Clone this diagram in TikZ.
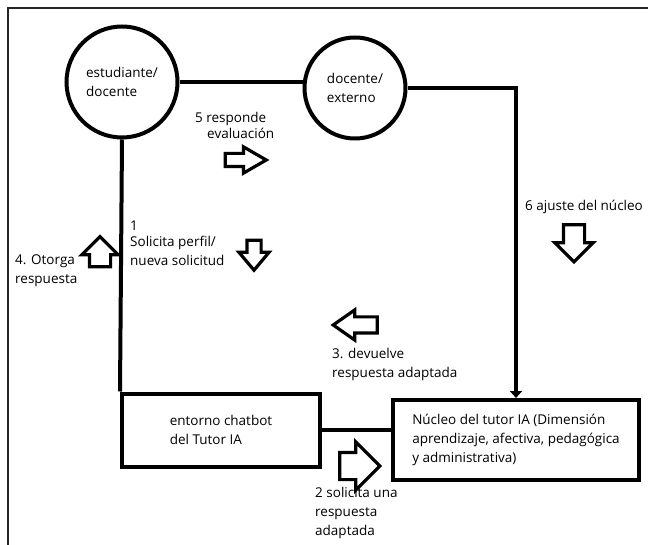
\documentclass[tikz,border=0pt]{standalone}
\usepackage{fontspec}
\setmainfont{Open Sans}
\usetikzlibrary{shapes, arrows.meta, positioning, calc}

\begin{document}
\begin{tikzpicture}[
            x=1pt, y=-1pt,
            font=\fontsize{13.5}{19}\selectfont,
            actor/.style={circle, draw=black, line width=4pt, align=left, inner sep=0pt},
            box/.style={rectangle, draw=black, line width=4pt, align=left, inner sep=0pt},
            link/.style={line width=4pt, draw=black},
            blk/.style n args={3}{single arrow, draw=black, line width=3.2pt, inner sep=0pt, inner ysep=#2, minimum height=#1, single arrow head extend=#3},
            vblk/.style n args={3}{single arrow, draw=black, line width=3.2pt, inner sep=0pt, inner xsep=#2, minimum height=#1, single arrow head extend=#3},
            lbl/.style={anchor=west, align=left, inner sep=0pt}
        ]
    \useasboundingbox (0,0) rectangle (648,545);
    \draw[line width=2pt, black!85] (648,8) -- (8,8) -- (8,545);

    % actors and boxes
    \node[actor, minimum size=111pt] (est) at (122,82) {estudiante/\\docente};
    \node[actor, minimum size=101pt] (doc) at (355,88) {docente/\\externo};
    \node[box, minimum width=198pt, minimum height=73pt] (ent) at (221,430) {entorno chatbot\\del Tutor IA};
    \node[box, minimum width=246pt, minimum height=80pt] (nuc) at (516,440) {N\'ucleo del tutor IA (Dimensi\'on\\aprendizaje, afectiva, pedag\'ogica\\y administrativa)};

    % connectors
    \draw[link] (est.east) -- (est.east -| doc.west);
    \draw[link, -{Triangle[length=7pt, width=12pt]}] (doc.east) -| (nuc.north);
    \draw[link] (est.south) -- (ent.north west);
    \draw[link] (ent.east) -- (ent.east -| nuc.west);

    % block arrows
    \node[blk={41pt}{5pt}{6.5pt}, single arrow tip angle=60] (a5) at (240,160) {};
    \node[vblk={30pt}{5.5pt}{8pt}, single arrow tip angle=80, shape border rotate=270] (a1) at (254,251) {};
    \node[vblk={30pt}{9pt}{7.5pt}, single arrow tip angle=90, shape border rotate=90] (a4) at (100,257) {};
    \node[vblk={37pt}{9pt}{8.5pt}, single arrow tip angle=90, shape border rotate=270] (a6) at (574,238) {};
    \node[blk={44pt}{6.5pt}{7pt}, single arrow tip angle=70, shape border rotate=180] (a3) at (361,325) {};
    \node[blk={40pt}{12pt}{10.5pt}, single arrow tip angle=90] (a2) at (353,466) {};

    % labels
    \node[lbl] (l5) at (195,125) {5 responde\\[-3pt]\hspace*{12pt}evaluaci\'on};
    \node[lbl] (l1) at (130,243) {1\\[-3pt]Solicita perfil/\\nueva solicitud};
    \node[lbl] (l4) at (15,271) {4. Otorga\\respuesta};
    \node[lbl] (l6) at (525,207) {6 ajuste del n\'ucleo};
    \node[lbl] (l3) at (332,364) {3. devuelve\\respuesta adaptada};
    \node[lbl] (l2) at (315,513) {2 solicita una\\respuesta\\adaptada};

\end{tikzpicture}
\end{document}
